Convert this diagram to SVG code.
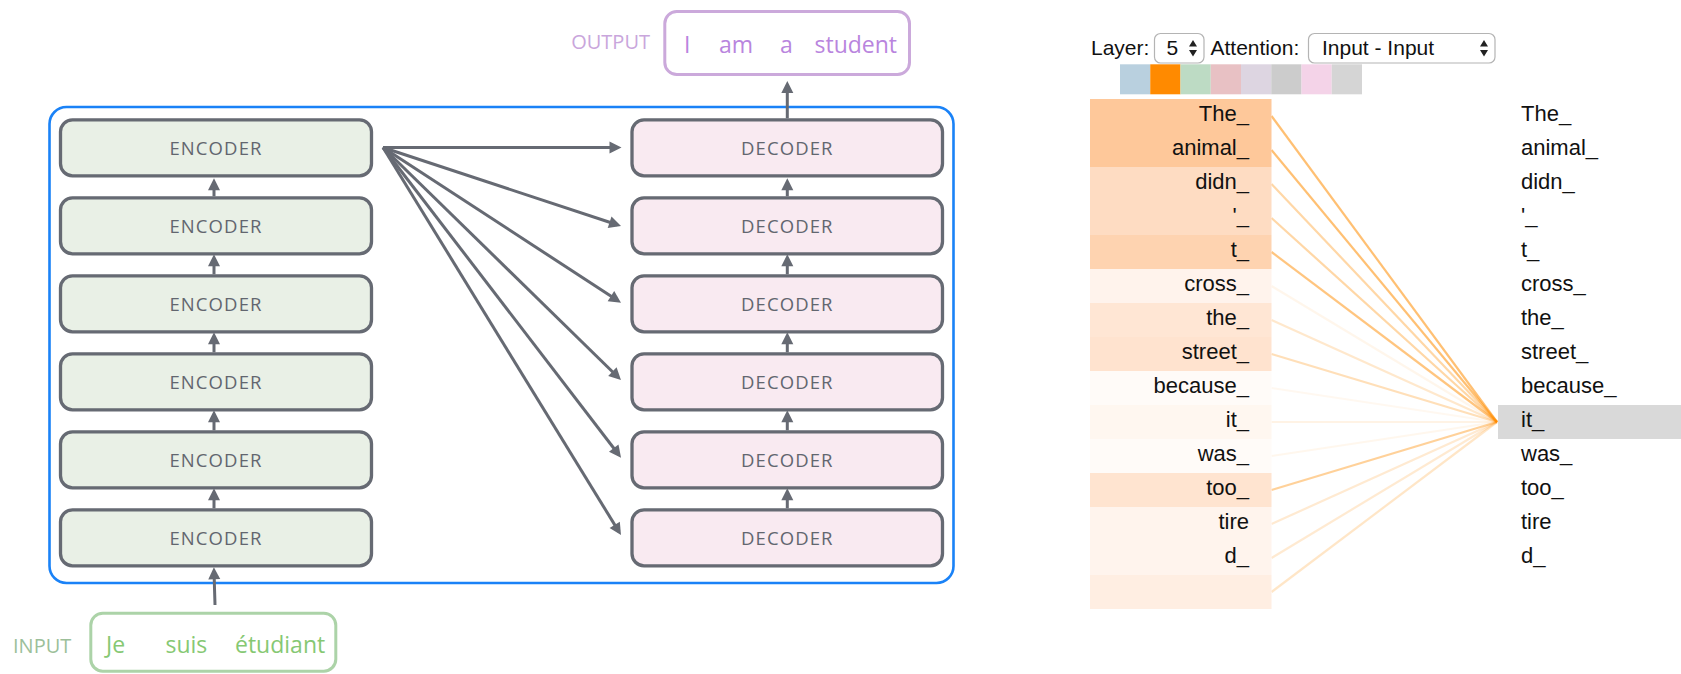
<svg xmlns="http://www.w3.org/2000/svg" width="1681" height="674" viewBox="0 0 1681 674">
  <defs>
    <style>
      .enc rect { fill: #e9f0e6; stroke: #666a73; stroke-width: 3.3; }
      .dec rect { fill: #f9eaf1; stroke: #666a73; stroke-width: 3.3; }
      .blk { font-family: "Open Sans", "Liberation Sans", sans-serif; font-size: 18.5px; letter-spacing: 1.1px; fill: #62666f; text-anchor: middle; }
      .link { stroke: #666a73; stroke-width: 3; fill: none; marker-end: url(#head); }
      .ui { font-family: "Liberation Sans", Arial, sans-serif; font-size: 21px; fill: #111; }
      .tok { font-family: "Liberation Sans", Arial, sans-serif; font-size: 22px; fill: #111; }
      .tokL { text-anchor: end; }
      .sel { fill: #fff; stroke: #b4b4b4; stroke-width: 1.2; }
      .att { stroke: #ff8c00; stroke-width: 2.2; fill: none; }
    </style>
    <marker id="head" markerUnits="userSpaceOnUse" markerWidth="14" markerHeight="14" refX="8" refY="6" orient="auto" overflow="visible">
      <path d="M0,0 L12,6 L0,12 z" fill="#666a73"/>
    </marker>
  </defs>

  <rect width="1681" height="674" fill="#fff"/>

  <!-- transformer stack container -->
  <g id="stack">
    <rect x="49.5" y="107" width="904" height="476" rx="17" fill="none" stroke="#1a82f7" stroke-width="2.6"/>
  </g>

  <!-- encoders -->
  <g id="encoder-1" class="enc"><rect x="60.5" y="119.8" width="311" height="56" rx="12"/><text class="blk" x="216" y="154.8">ENCODER</text></g>
  <g id="encoder-2" class="enc"><rect x="60.5" y="197.8" width="311" height="56" rx="12"/><text class="blk" x="216" y="232.8">ENCODER</text></g>
  <g id="encoder-3" class="enc"><rect x="60.5" y="275.8" width="311" height="56" rx="12"/><text class="blk" x="216" y="310.8">ENCODER</text></g>
  <g id="encoder-4" class="enc"><rect x="60.5" y="353.8" width="311" height="56" rx="12"/><text class="blk" x="216" y="388.8">ENCODER</text></g>
  <g id="encoder-5" class="enc"><rect x="60.5" y="431.8" width="311" height="56" rx="12"/><text class="blk" x="216" y="466.8">ENCODER</text></g>
  <g id="encoder-6" class="enc"><rect x="60.5" y="509.8" width="311" height="56" rx="12"/><text class="blk" x="216" y="544.8">ENCODER</text></g>

  <!-- decoders -->
  <g id="decoder-1" class="dec"><rect x="632" y="119.8" width="310.5" height="56" rx="12"/><text class="blk" x="787.3" y="154.8">DECODER</text></g>
  <g id="decoder-2" class="dec"><rect x="632" y="197.8" width="310.5" height="56" rx="12"/><text class="blk" x="787.3" y="232.8">DECODER</text></g>
  <g id="decoder-3" class="dec"><rect x="632" y="275.8" width="310.5" height="56" rx="12"/><text class="blk" x="787.3" y="310.8">DECODER</text></g>
  <g id="decoder-4" class="dec"><rect x="632" y="353.8" width="310.5" height="56" rx="12"/><text class="blk" x="787.3" y="388.8">DECODER</text></g>
  <g id="decoder-5" class="dec"><rect x="632" y="431.8" width="310.5" height="56" rx="12"/><text class="blk" x="787.3" y="466.8">DECODER</text></g>
  <g id="decoder-6" class="dec"><rect x="632" y="509.8" width="310.5" height="56" rx="12"/><text class="blk" x="787.3" y="544.8">DECODER</text></g>

  <!-- output sentence -->
  <g id="output">
    <text x="650" y="49.3" text-anchor="end" font-family="'Open Sans', 'Liberation Sans', sans-serif" font-size="20" fill="#c9a6dc">OUTPUT</text>
    <rect x="664.8" y="11.5" width="244.7" height="63" rx="12" fill="#fff" stroke="#cba9db" stroke-width="3"/>
    <g font-family="'Open Sans', 'Liberation Sans', sans-serif" font-size="23" fill="#b985de">
      <text x="684" y="52.7">I</text>
      <text x="719" y="52.7">am</text>
      <text x="780" y="52.7">a</text>
      <text x="814.5" y="52.7">student</text>
    </g>
  </g>

  <!-- input sentence -->
  <g id="input">
    <text x="13" y="652.7" font-family="'Open Sans', 'Liberation Sans', sans-serif" font-size="20" fill="#9cbf9a">INPUT</text>
    <rect x="90.8" y="613.2" width="245" height="58" rx="12" fill="#fff" stroke="#acd3a8" stroke-width="3"/>
    <g font-family="'Open Sans', 'Liberation Sans', sans-serif" font-size="23" fill="#86c873">
      <text x="106" y="653.3">Je</text>
      <text x="165.5" y="653.3">suis</text>
      <text x="235" y="653.3">étudiant</text>
    </g>
  </g>

  <!-- connectors -->
  <g id="connectors">
    <!-- encoder stack, bottom to top -->
    <line class="link" x1="215" y1="605" x2="214" y2="571.3"/>
    <line class="link" x1="214" y1="508.3" x2="214" y2="492.3"/>
    <line class="link" x1="214" y1="430.3" x2="214" y2="414.3"/>
    <line class="link" x1="214" y1="352.3" x2="214" y2="336.3"/>
    <line class="link" x1="214" y1="274.3" x2="214" y2="258.3"/>
    <line class="link" x1="214" y1="196.3" x2="214" y2="182.3"/>
    <!-- decoder stack, bottom to top -->
    <line class="link" x1="787.3" y1="508.3" x2="787.3" y2="492.3"/>
    <line class="link" x1="787.3" y1="430.3" x2="787.3" y2="414.3"/>
    <line class="link" x1="787.3" y1="352.3" x2="787.3" y2="336.3"/>
    <line class="link" x1="787.3" y1="274.3" x2="787.3" y2="258.3"/>
    <line class="link" x1="787.3" y1="196.3" x2="787.3" y2="182.3"/>
    <line class="link" x1="787.3" y1="118.3" x2="787.3" y2="85"/>
    <!-- encoder output fanned out to every decoder -->
    <line class="link" x1="383" y1="147.5" x2="617.5" y2="147.5"/>
    <line class="link" x1="383" y1="147.5" x2="617.2" y2="224.75"/>
    <line class="link" x1="383" y1="147.5" x2="617.65" y2="300.5"/>
    <line class="link" x1="383" y1="147.5" x2="618.1" y2="377.2"/>
    <line class="link" x1="383" y1="147.5" x2="618.6" y2="454.5"/>
    <line class="link" x1="383" y1="147.5" x2="618.9" y2="531.6"/>
  </g>

  <!-- attention viewer controls -->
  <g id="controls">
    <text class="ui" x="1091" y="55">Layer:</text>
    <rect class="sel" x="1154.5" y="33.5" width="49.5" height="29.5" rx="6"/>
    <text class="ui" x="1166.5" y="55">5</text>
    <path d="M1189,46.5 L1197,46.5 L1193,40 z M1189,50 L1197,50 L1193,56.5 z" fill="#222"/>
    <text class="ui" x="1210.5" y="55">Attention:</text>
    <rect class="sel" x="1308.5" y="33.5" width="186.5" height="29.5" rx="6"/>
    <text class="ui" x="1322" y="55">Input - Input</text>
    <path d="M1480,46.5 L1488,46.5 L1484,40 z M1480,50 L1488,50 L1484,56.5 z" fill="#222"/>
  </g>

  <!-- attention head colour swatches -->
  <g id="heads">
    <rect x="1120" y="64.3" width="30.25" height="30" fill="#b9d0df"/>
    <rect x="1150.25" y="64.3" width="30.25" height="30" fill="#ff8a00"/>
    <rect x="1180.5" y="64.3" width="30.25" height="30" fill="#bddbc4"/>
    <rect x="1210.75" y="64.3" width="30.25" height="30" fill="#e8c1c4"/>
    <rect x="1241" y="64.3" width="30.25" height="30" fill="#ddd5e1"/>
    <rect x="1271.25" y="64.3" width="30.25" height="30" fill="#cccccc"/>
    <rect x="1301.5" y="64.3" width="30.25" height="30" fill="#f4d3e8"/>
    <rect x="1331.75" y="64.3" width="30.25" height="30" fill="#d5d5d5"/>
  </g>

  <!-- attention weights from every token to "it_" -->
  <g id="attention">
    <line class="att" x1="1271.5" y1="116" x2="1497" y2="422" opacity="0.55"/>
    <line class="att" x1="1271.5" y1="150" x2="1497" y2="422" opacity="0.55"/>
    <line class="att" x1="1271.5" y1="184" x2="1497" y2="422" opacity="0.35"/>
    <line class="att" x1="1271.5" y1="218" x2="1497" y2="422" opacity="0.35"/>
    <line class="att" x1="1271.5" y1="252" x2="1497" y2="422" opacity="0.5"/>
    <line class="att" x1="1271.5" y1="286" x2="1497" y2="422" opacity="0.08"/>
    <line class="att" x1="1271.5" y1="320" x2="1497" y2="422" opacity="0.2"/>
    <line class="att" x1="1271.5" y1="354" x2="1497" y2="422" opacity="0.28"/>
    <line class="att" x1="1271.5" y1="388" x2="1497" y2="422" opacity="0.06"/>
    <line class="att" x1="1271.5" y1="422" x2="1497" y2="422" opacity="0.1"/>
    <line class="att" x1="1271.5" y1="456" x2="1497" y2="422" opacity="0.07"/>
    <line class="att" x1="1271.5" y1="490" x2="1497" y2="422" opacity="0.4"/>
    <line class="att" x1="1271.5" y1="524" x2="1497" y2="422" opacity="0.18"/>
    <line class="att" x1="1271.5" y1="558" x2="1497" y2="422" opacity="0.18"/>
    <line class="att" x1="1271.5" y1="592" x2="1497" y2="422" opacity="0.22"/>
  </g>

  <!-- source tokens, shaded by attention weight -->
  <g id="tokens-left">
    <rect x="1090" y="99" width="181.5" height="34" fill="#fec89a"/>
    <rect x="1090" y="133" width="181.5" height="34" fill="#fec89a"/>
    <rect x="1090" y="167" width="181.5" height="34" fill="#fedcc2"/>
    <rect x="1090" y="201" width="181.5" height="34" fill="#fedcc2"/>
    <rect x="1090" y="235" width="181.5" height="34" fill="#fed3b0"/>
    <rect x="1090" y="269" width="181.5" height="34" fill="#fff3ec"/>
    <rect x="1090" y="303" width="181.5" height="34" fill="#ffe6d4"/>
    <rect x="1090" y="337" width="181.5" height="34" fill="#ffe3cf"/>
    <rect x="1090" y="371" width="181.5" height="34" fill="#fffbf8"/>
    <rect x="1090" y="405" width="181.5" height="34" fill="#fff7f0"/>
    <rect x="1090" y="439" width="181.5" height="34" fill="#fffbf8"/>
    <rect x="1090" y="473" width="181.5" height="34" fill="#ffe4d0"/>
    <rect x="1090" y="507" width="181.5" height="34" fill="#fff4ed"/>
    <rect x="1090" y="541" width="181.5" height="34" fill="#fff4ed"/>
    <rect x="1090" y="575" width="181.5" height="34" fill="#ffeee2"/>
    <text class="tok tokL" x="1249" y="121">The_</text>
    <text class="tok tokL" x="1249" y="155">animal_</text>
    <text class="tok tokL" x="1249" y="189">didn_</text>
    <text class="tok tokL" x="1249" y="223">'_</text>
    <text class="tok tokL" x="1249" y="257">t_</text>
    <text class="tok tokL" x="1249" y="291">cross_</text>
    <text class="tok tokL" x="1249" y="325">the_</text>
    <text class="tok tokL" x="1249" y="359">street_</text>
    <text class="tok tokL" x="1249" y="393">because_</text>
    <text class="tok tokL" x="1249" y="427">it_</text>
    <text class="tok tokL" x="1249" y="461">was_</text>
    <text class="tok tokL" x="1249" y="495">too_</text>
    <text class="tok tokL" x="1249" y="529">tire</text>
    <text class="tok tokL" x="1249" y="563">d_</text>
  </g>

  <!-- target tokens, selected one highlighted -->
  <g id="tokens-right">
    <rect x="1498" y="405" width="183" height="34" fill="#d9d9d9"/>
    <text class="tok" x="1521" y="121">The_</text>
    <text class="tok" x="1521" y="155">animal_</text>
    <text class="tok" x="1521" y="189">didn_</text>
    <text class="tok" x="1521" y="223">'_</text>
    <text class="tok" x="1521" y="257">t_</text>
    <text class="tok" x="1521" y="291">cross_</text>
    <text class="tok" x="1521" y="325">the_</text>
    <text class="tok" x="1521" y="359">street_</text>
    <text class="tok" x="1521" y="393">because_</text>
    <text class="tok" x="1521" y="427">it_</text>
    <text class="tok" x="1521" y="461">was_</text>
    <text class="tok" x="1521" y="495">too_</text>
    <text class="tok" x="1521" y="529">tire</text>
    <text class="tok" x="1521" y="563">d_</text>
  </g>
</svg>
